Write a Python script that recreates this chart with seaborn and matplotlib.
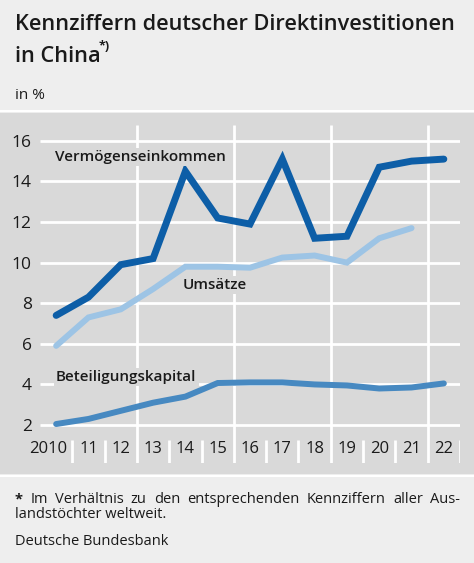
import numpy as np
import pandas as pd
import seaborn as sns
import matplotlib.pyplot as plt
from matplotlib.patches import Rectangle

years = list(range(2010, 2023))
year_labels = ['2010', '11', '12', '13', '14', '15', '16', '17', '18', '19', '20', '21', '22']
vermoegen = [7.4, 8.3, 9.9, 10.2, 14.5, 12.2, 11.9, 15.1, 11.2, 11.3, 14.7, 15.0, 15.1]
umsaetze = [5.9, 7.3, 7.7, 8.7, 9.8, 9.8, 9.75, 10.25, 10.35, 10.0, 11.2, 11.7, np.nan]
beteiligung = [2.05, 2.3, 2.7, 3.1, 3.4, 4.07, 4.1, 4.1, 4.0, 3.95, 3.8, 3.85, 4.05]

df = pd.DataFrame({'Jahr': years, 'Vermögenseinkommen': vermoegen,
                   'Umsätze': umsaetze, 'Beteiligungskapital': beteiligung})

sns.set_theme(style='white')
plt.rcParams['font.family'] = ['Open Sans', 'DejaVu Sans']

bg = '#eeeeee'
panel = '#d9d9d9'
dark = '#0d5ea7'
light = '#9dc4e5'
mid = '#4789c1'
txt = '#1a1a1a'

W, H = 474, 563
fig = plt.figure(figsize=(W / 100, H / 100), dpi=100, facecolor=bg)

def fx(px):
    return px / W

def fy(py):
    return 1 - py / H

# grey panel behind the chart
fig.patches.append(Rectangle((0, fy(474)), 1, (474 - 113) / H, transform=fig.transFigure,
                             facecolor=panel, edgecolor='none', zorder=-2))
fig.lines.append(plt.Line2D([0, 1], [fy(111), fy(111)], transform=fig.transFigure,
                            color='white', lw=1.5, zorder=-1))
fig.lines.append(plt.Line2D([0, 1], [fy(476), fy(476)], transform=fig.transFigure,
                            color='white', lw=1.5, zorder=-1))

ax = fig.add_axes([fx(40), fy(463), fx(420), (463 - 125) / H])
ax.set_facecolor('none')
ax.set_xlim(2009.5, 2022.5)
ax.set_ylim(0.13, 16.78)
for s in ax.spines.values():
    s.set_visible(False)

yticks = [2, 4, 6, 8, 10, 12, 14, 16]
big = [2012.5, 2015.5, 2018.5, 2021.5]
ax.hlines(yticks, 2009.5, 2022.5, color='white', lw=2, zorder=1)
ax.vlines(big, 0.13, 16.78, color='white', lw=2, zorder=1)
small = [y + 0.5 for y in years if y + 0.5 not in big]
ax.vlines(small, 0.13, 1.26, color='white', lw=2, zorder=1)

sns.lineplot(data=df, x='Jahr', y='Beteiligungskapital', color=mid, lw=4.3, ax=ax, zorder=3)
sns.lineplot(data=df, x='Jahr', y='Umsätze', color=light, lw=4.3, ax=ax, zorder=3)
sns.lineplot(data=df, x='Jahr', y='Vermögenseinkommen', color=dark, lw=5, ax=ax, zorder=4)
for ln in ax.lines[-3:]:
    ln.set_solid_joinstyle('miter')

ax.set_yticks(yticks)
ax.set_yticklabels([str(v) for v in yticks])
# the first label "2010" sits left of its slot so it clears the tick mark
label_pos = [2009.74] + years[1:]
ax.set_xticks(label_pos)
ax.set_xticklabels(year_labels)
ax.tick_params(axis='y', length=0, pad=6, labelsize=12.5, labelcolor=txt)
ax.tick_params(axis='x', length=0, pad=-16, labelsize=12, labelcolor=txt)
ax.set_xlabel('')
ax.set_ylabel('')

lab = dict(fontsize=11, fontweight='semibold', color=txt, ha='center', va='center',
           zorder=5, bbox=dict(facecolor=panel, edgecolor='none', pad=1.5))
ax.text(2012.6, 15.21, 'Vermögenseinkommen', **lab)
ax.text(2014.9, 8.9, 'Umsätze', **lab)
ax.text(2012.17, 4.37, 'Beteiligungskapital', **lab)

# title block
fig.text(fx(15), fy(30), 'Kennziffern deutscher Direktinvestitionen', fontsize=15.7,
         fontweight='semibold', color=txt, va='baseline')
fig.text(fx(15), fy(62), 'in China', fontsize=15.7, fontweight='semibold', color=txt, va='baseline')
fig.text(fx(99), fy(50), '*)', fontsize=9, fontweight='bold', color=txt, va='baseline')
fig.text(fx(15), fy(99), 'in %', fontsize=11, color=txt, va='baseline')

# footnote, first line justified
foot = ['*', 'Im', 'Verhältnis', 'zu', 'den', 'entsprechenden', 'Kennziffern', 'aller', 'Aus-']
renderer = fig.canvas.get_renderer()
items = []
for w in foot:
    t = fig.text(0, fy(503), w, fontsize=10.5, color=txt, va='baseline',
                 fontweight='bold' if w == '*' else 'normal')
    items.append(t)
widths = [t.get_window_extent(renderer).width for t in items]
gap = (fx(460) - fx(15)) * W - sum(widths)
gap = gap / (len(items) - 1)
x = 15
for t, wd in zip(items, widths):
    t.set_x(fx(x))
    x += wd + gap
fig.text(fx(15), fy(518), 'landstöchter weltweit.', fontsize=10.5, color=txt, va='baseline')
fig.text(fx(15), fy(545), 'Deutsche Bundesbank', fontsize=10.5, color=txt, va='baseline')

fig.savefig('out.png', dpi=100, facecolor=bg)
